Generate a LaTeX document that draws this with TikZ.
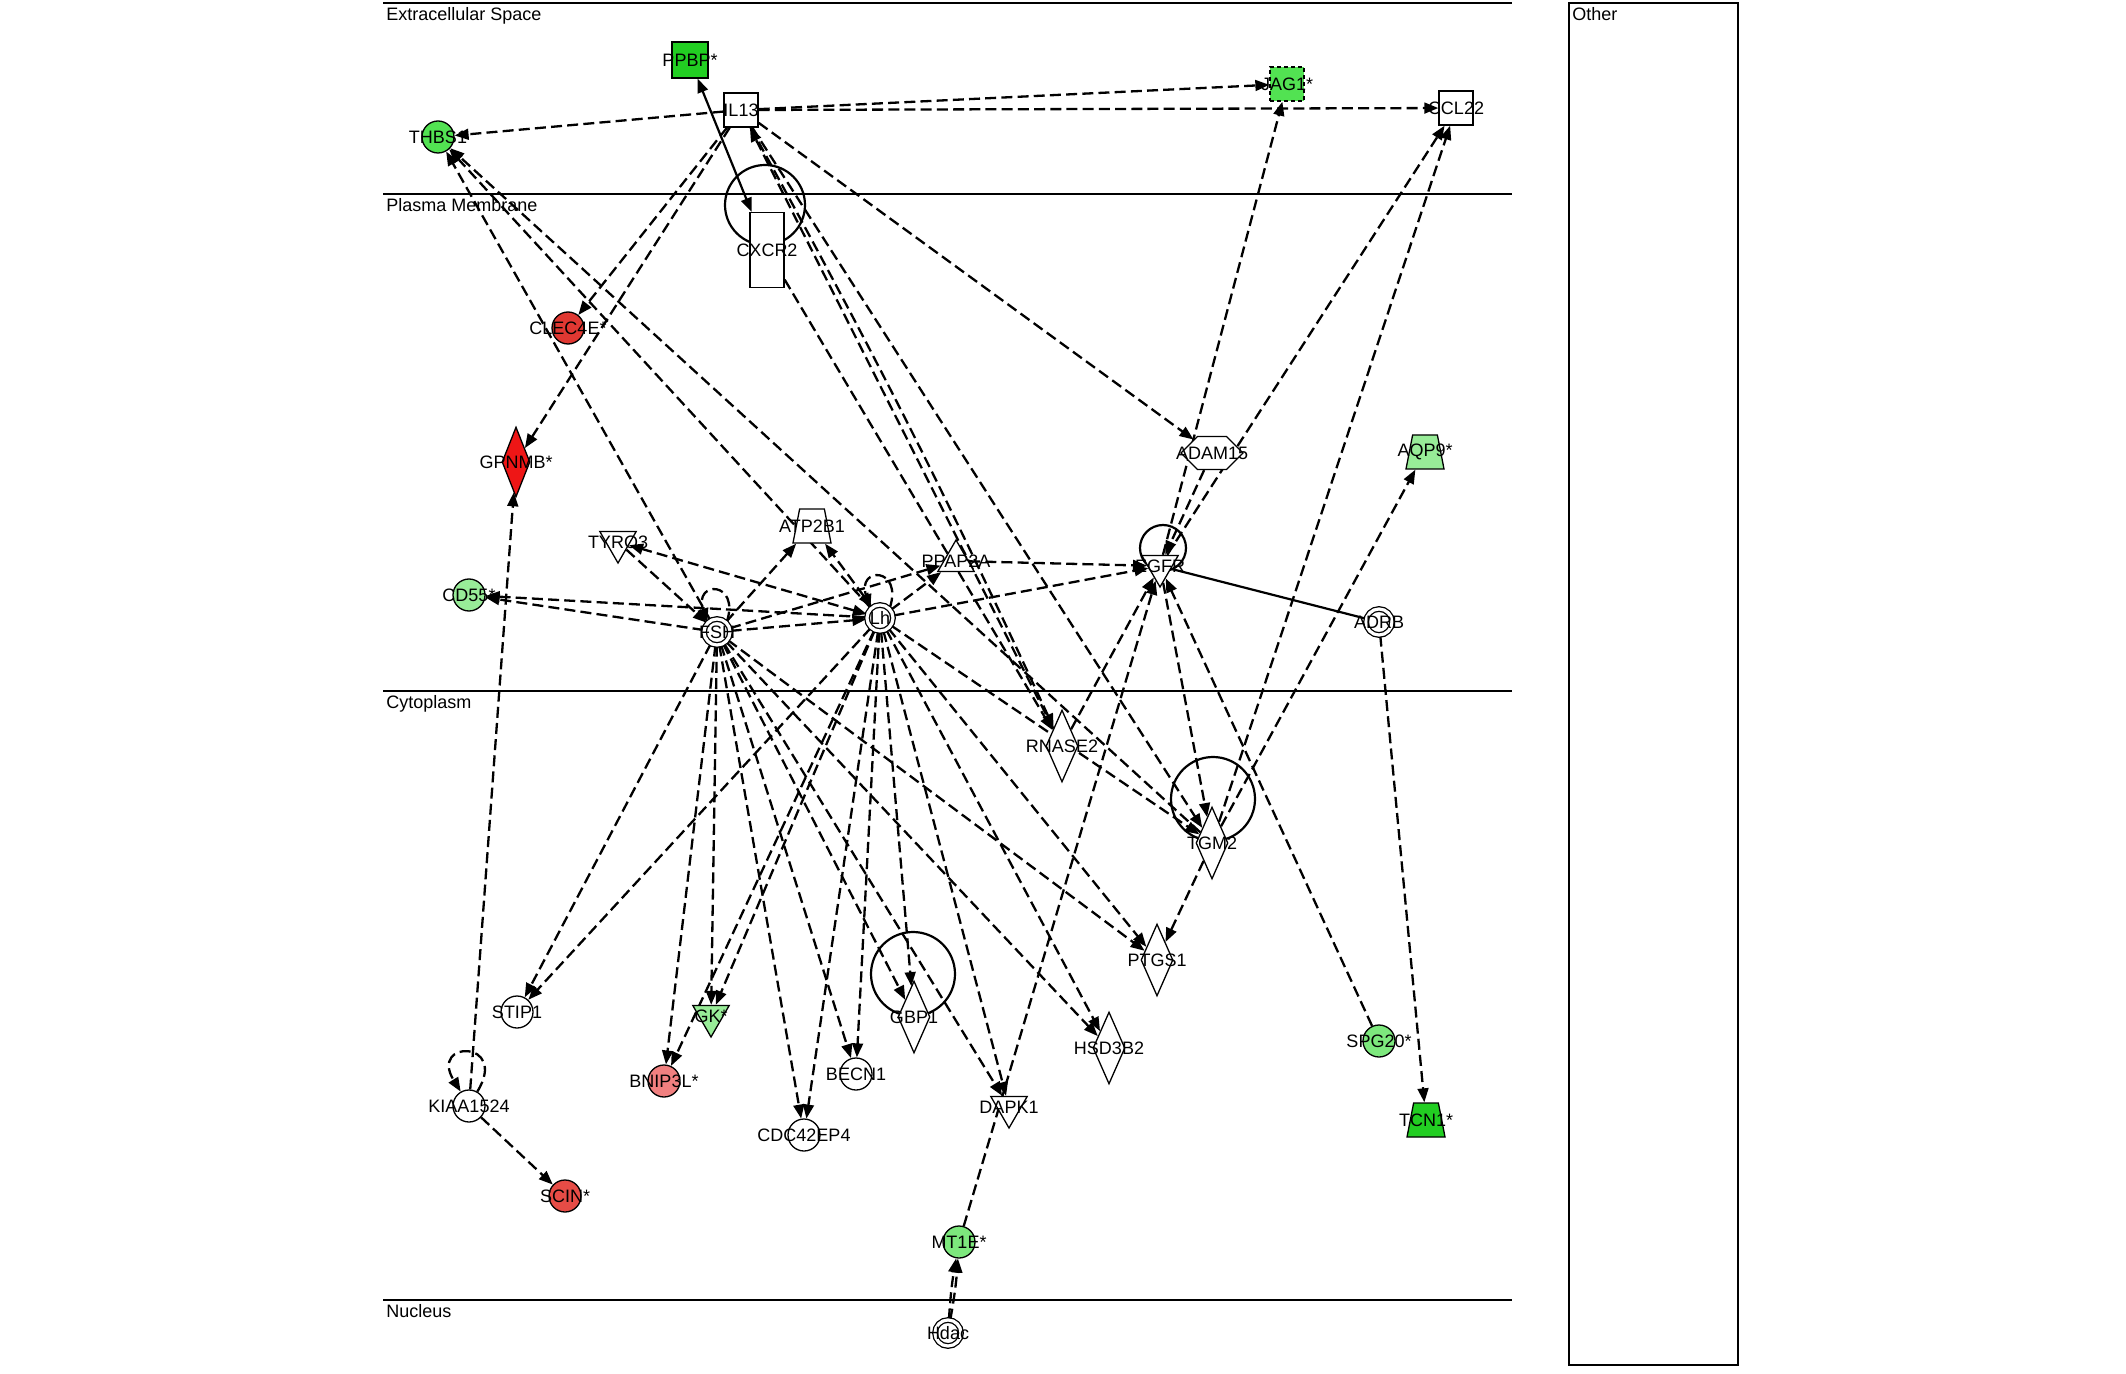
\documentclass[tikz,border=0pt]{standalone}
\usepackage{fontspec}
\setmainfont{Liberation Sans}
\usetikzlibrary{shapes.geometric, shapes.symbols, arrows.meta, backgrounds}
\definecolor{geneGreen}{RGB}{34,206,34}
\definecolor{geneLime}{RGB}{82,226,82}
\definecolor{geneMid}{RGB}{125,232,125}
\definecolor{genePale}{RGB}{152,236,152}
\definecolor{geneRed}{RGB}{238,22,22}
\definecolor{geneCoral}{RGB}{224,56,50}
\definecolor{geneSalmon}{RGB}{230,76,70}
\definecolor{genePink}{RGB}{240,128,128}

\begin{document}
\begin{tikzpicture}[x=0.5pt, y=-0.5pt,
    gene/.style={draw=black, line width=0.65pt, inner sep=0pt, fill=#1},
    gene/.default=white,
    circ/.style={gene=#1, circle, minimum size=16pt},
    circ/.default=white,
    dcirc/.style={gene=white, circle, double, double distance=1.6pt, minimum size=13pt},
    box/.style={gene=#1, rectangle, minimum width=17pt, minimum height=17pt},
    box/.default=white,
    dmnd/.style={gene=#1, diamond, minimum width=16pt, minimum height=36pt},
    dmnd/.default=white,
    tridown/.style={gene=#1, regular polygon, regular polygon sides=3, shape border rotate=180, minimum size=21pt},
    tridown/.default=white,
    triup/.style={gene=#1, regular polygon, regular polygon sides=3, minimum size=21pt},
    triup/.default=white,
    trap/.style={gene=#1, inner sep=1pt, trapezium, trapezium left angle=75, trapezium right angle=75, trapezium stretches=true, minimum width=19pt, minimum height=17pt},
    trap/.default=white,
    hexa/.style={gene=#1, signal, signal to=east and west, minimum width=31pt, minimum height=16.5pt},
    hexa/.default=white,
    rel/.style={->, >={Triangle[length=7pt, width=5.4pt]}, line width=1.15pt, dash pattern=on 5.5pt off 2.6pt},
    relsolid/.style={line width=1.1pt, >={Triangle[length=7pt, width=5.4pt]}},
    selfloop/.style={line width=1.1pt},
    compline/.style={line width=1pt},
    compname/.style={anchor=north west, inner sep=1pt, font=\fontsize{9}{10}\selectfont},
    every label/.style={inner sep=0pt, font=\fontsize{9}{10}\selectfont}
]
\useasboundingbox (0,0) rectangle (2126,1374);

% compartment names
\node[compname] (extra) at (384,5) {Extracellular Space};
\node[compname] (membrane) at (384,196) {Plasma Membrane};
\node[compname] (cyto) at (384,693) {Cytoplasm};
\node[compname] (nucleus) at (384,1302) {Nucleus};
\node[compname] (other) at (1570,5) {Other};

% Extracellular Space
\node[box=geneGreen, minimum size=18pt, label=center:PPBP*] (ppbp) at (690,60) {};
\node[box, label=center:IL13] (il13) at (741,110) {};
\node[circ=geneLime, label=center:THBS1] (thbs1) at (438,137) {};
\node[box=geneLime, dash pattern=on 2pt off 1.5pt, label=center:JAG1*] (jag1) at (1287,84) {};
\node[box, label=center:CCL22] (ccl22) at (1456,108) {};

% Plasma Membrane
\node[box, minimum height=37.5pt, label=center:CXCR2] (cxcr2) at (767,250) {};
\node[circ=geneCoral, label=center:CLEC4E*] (clec4e) at (568,328) {};
\node[dmnd=geneRed, minimum width=14pt, minimum height=35pt, label=center:GPNMB*] (gpnmb) at (516,462) {};
\node[hexa, label=center:ADAM15] (adam15) at (1212,453) {};
\node[trap=genePale, label=center:AQP9*] (aqp9) at (1425,452) {};
\node[tridown, label=center:TYRO3] (tyro3) at (618,542) {};
\node[trap, label=center:ATP2B1] (atp2b1) at (812,526) {};
\node[triup, label=center:PPAP2A] (ppap2a) at (956,561) {};
\node[tridown, label=center:EGFR] (egfr) at (1160,566) {};
\node[circ=genePale, label=center:CD55*] (cd55) at (469,595) {};
\node[dcirc, label=center:FSH] (fsh) at (717,632) {};
\node[dcirc, label=center:Lh] (lh) at (880,618) {};
\node[dcirc, label=center:ADRB] (adrb) at (1379,622) {};

% Cytoplasm
\node[dmnd, label=center:RNASE2] (rnase2) at (1062,746) {};
\node[dmnd, label=center:TGM2] (tgm2) at (1212,843) {};
\node[dmnd, label=center:PTGS1] (ptgs1) at (1157,960) {};
\node[circ, label=center:STIP1] (stip1) at (517,1012) {};
\node[tridown=genePale, label=center:GK*] (gk) at (711,1016) {};
\node[dmnd, label=center:GBP1] (gbp1) at (914,1017) {};
\node[dmnd, label=center:HSD3B2] (hsd3b2) at (1109,1048) {};
\node[circ=geneMid, label=center:SPG20*] (spg20) at (1379,1041) {};
\node[circ=genePink, label=center:BNIP3L*] (bnip3l) at (664,1081) {};
\node[circ, label=center:BECN1] (becn1) at (856,1074) {};
\node[circ, label=center:KIAA1524] (kiaa) at (469,1106) {};
\node[tridown, label=center:DAPK1] (dapk1) at (1009,1107) {};
\node[circ, label=center:CDC42EP4] (cdc42ep4) at (804,1135) {};
\node[trap=geneGreen, label=center:TCN1*] (tcn1) at (1426,1120) {};
\node[circ=geneSalmon, label=center:SCIN*] (scin) at (565,1196) {};
\node[circ=geneMid, label=center:MT1E*] (mt1e) at (959,1242) {};

% Nucleus
\node[dcirc, label=center:Hdac] (hdac) at (948,1333) {};

\begin{scope}[on background layer]
    \fill[white] (0,0) rectangle (2126,1374);
    \draw[compline] (383,3) -- (1512,3);
    \draw[compline] (383,194) -- (1512,194);
    \draw[compline] (383,691) -- (1512,691);
    \draw[compline] (383,1300) -- (1512,1300);
    \draw[compline] (1569,3) rectangle (1738,1365);
    % self loops
    \draw[selfloop] (cxcr2.center) ++(-2,-45) circle[radius=20pt];
    \draw[selfloop] (egfr.center) ++(3,-18) circle[radius=11.5pt];
    \draw[selfloop] (tgm2.center) ++(1,-44) circle[radius=21pt];
    \draw[selfloop] (gbp1.center) ++(-1,-43) circle[radius=21pt];
    \draw[rel] (fsh.45) .. controls +(14,-42) and +(-14,-42) .. (fsh.135);
    \draw[rel] (lh.45) .. controls +(14,-42) and +(-14,-42) .. (lh.135);
    \draw[rel] (kiaa.60) .. controls +(32,-52) and +(-32,-52) .. (kiaa.120);
    % extracellular relations
    \draw[rel] (il13) -- (thbs1);
    \draw[rel] (il13) -- (jag1);
    \draw[rel] (il13) -- (ccl22);
    \draw[relsolid, <->] (ppbp) -- (cxcr2);
    \draw[rel] (il13) -- (clec4e);
    \draw[rel] (il13) -- (gpnmb);
    \draw[rel] (il13) -- (adam15);
    \draw[rel] (rnase2) -- (il13);
    \draw[rel] (il13) to[bend left=2] (rnase2);
    \draw[rel] (cxcr2) -- (rnase2);
    \draw[rel] (il13) -- (tgm2);
    \draw[rel] (fsh) -- (thbs1);
    \draw[rel] (lh) -- (thbs1);
    \draw[rel] (tgm2) -- (thbs1);
    \draw[rel] (egfr) -- (jag1);
    \draw[rel] (egfr) -- (ccl22);
    \draw[rel] (tgm2) -- (ccl22);
    % membrane relations
    \draw[rel] (adam15) -- (egfr);
    \draw[relsolid] (egfr) -- (adrb);
    \draw[rel] (adrb) -- (tcn1);
    \draw[rel] (tgm2) -- (aqp9);
    \draw[rel] (ppap2a) -- (egfr);
    \draw[rel] (lh) -- (egfr);
    \draw[rel] (egfr) -- (tgm2);
    \draw[rel] (rnase2) -- (egfr);
    \draw[rel] (mt1e) -- (egfr);
    \draw[rel] (spg20) -- (egfr);
    \draw[rel] (tgm2) -- (ptgs1);
    \draw[rel] (kiaa) -- (gpnmb);
    \draw[rel] (kiaa) -- (scin);
    \draw[rel] (hdac) to[bend left=3] (mt1e);
    \draw[rel] (hdac) to[bend right=3] (mt1e);
    \draw[rel] (fsh) -- (cd55);
    \draw[rel] (lh) -- (cd55);
    \draw[rel] (tyro3) -- (fsh);
    \draw[rel, <->] (lh) -- (tyro3);
    \draw[rel] (fsh) -- (atp2b1);
    \draw[rel, <->] (lh) -- (atp2b1);
    \draw[rel] (fsh) -- (lh);
    \draw[rel] (fsh) -- (ppap2a);
    \draw[rel] (lh) -- (ppap2a);
    \draw[rel] (lh) -- (tgm2);
    % FSH targets
    \draw[rel] (fsh) -- (stip1);
    \draw[rel] (fsh) -- (bnip3l);
    \draw[rel] (fsh) -- (gk);
    \draw[rel] (fsh) -- (cdc42ep4);
    \draw[rel] (fsh) -- (becn1);
    \draw[rel] (fsh) -- (gbp1);
    \draw[rel] (fsh) -- (dapk1);
    \draw[rel] (fsh) -- (hsd3b2);
    \draw[rel] (fsh) -- (ptgs1);
    % Lh targets
    \draw[rel] (lh) -- (stip1);
    \draw[rel] (lh) -- (bnip3l);
    \draw[rel] (lh) -- (gk);
    \draw[rel] (lh) -- (cdc42ep4);
    \draw[rel] (lh) -- (becn1);
    \draw[rel] (lh) -- (gbp1);
    \draw[rel] (lh) -- (dapk1);
    \draw[rel] (lh) -- (hsd3b2);
    \draw[rel] (lh) -- (ptgs1);
\end{scope}
\end{tikzpicture}
\end{document}
